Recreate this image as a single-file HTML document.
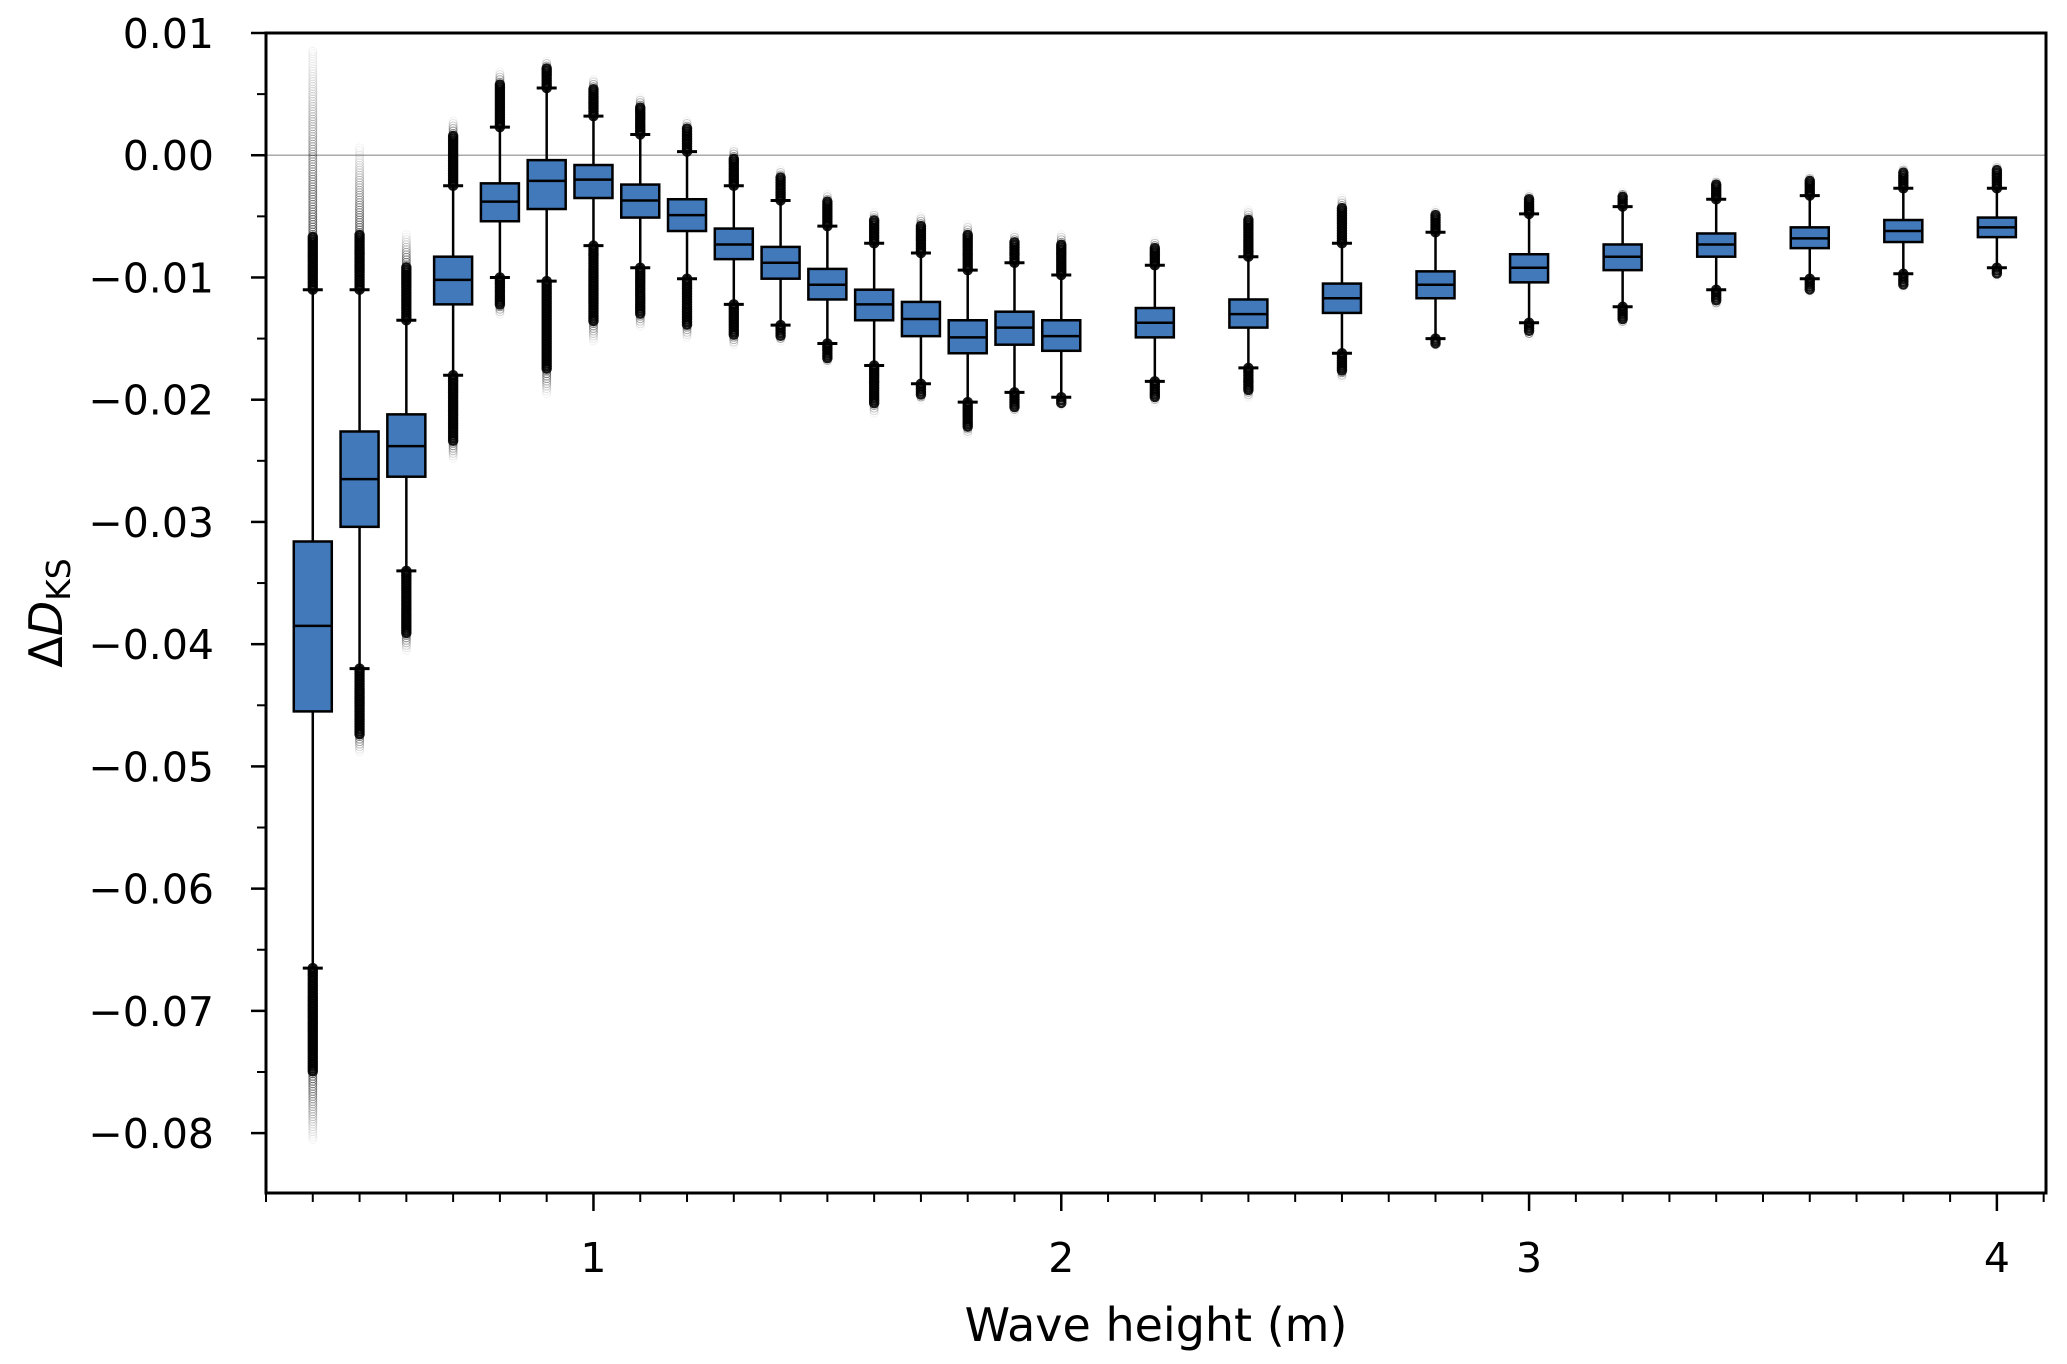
<!DOCTYPE html>
<html><head><meta charset="utf-8"><style>
html,body{margin:0;padding:0;background:#fff}
svg{display:block}
text{font-family:"DejaVu Sans","Liberation Sans",sans-serif;fill:#000}
</style></head><body>
<svg id="chart" width="2067" height="1364" viewBox="0 0 2067 1364" xmlns="http://www.w3.org/2000/svg">
<g id="plot"></g>
</svg>
<script>
const categories=[0.4,0.5,0.6,0.7,0.8,0.9,1.0,1.1,1.2,1.3,1.4,1.5,1.6,1.7,1.8,1.9,2.0,2.2,2.4,2.6,2.8,3.0,3.2,3.4,3.6,3.8,4.0];
const q3=[-0.0316,-0.0226,-0.0212,-0.0083,-0.0023,-0.0004,-0.0008,-0.0024,-0.0036,-0.0060,-0.0075,-0.0093,-0.0110,-0.0120,-0.0135,-0.0128,-0.0135,-0.0125,-0.0118,-0.0105,-0.0095,-0.0081,-0.0073,-0.0064,-0.0059,-0.0053,-0.0051];
const q1=[-0.0455,-0.0304,-0.0263,-0.0122,-0.0054,-0.0044,-0.0035,-0.0051,-0.0062,-0.0085,-0.0101,-0.0118,-0.0135,-0.0148,-0.0162,-0.0155,-0.0160,-0.0149,-0.0141,-0.0129,-0.0117,-0.0104,-0.0094,-0.0083,-0.0076,-0.0071,-0.0067];
const medians=[-0.0385,-0.0265,-0.0238,-0.0102,-0.0038,-0.0021,-0.0020,-0.0037,-0.0049,-0.0073,-0.0088,-0.0106,-0.0122,-0.0134,-0.0149,-0.0141,-0.0148,-0.0137,-0.0130,-0.0117,-0.0106,-0.0092,-0.0083,-0.0073,-0.0068,-0.0062,-0.0059];
const whiskHi=[-0.0110,-0.0110,-0.0135,-0.0025,0.0023,0.0055,0.0032,0.0017,0.0003,-0.0025,-0.0037,-0.0058,-0.0072,-0.0080,-0.0094,-0.0088,-0.0098,-0.0090,-0.0083,-0.0072,-0.0063,-0.0048,-0.0042,-0.0036,-0.0033,-0.0027,-0.0027];
const whiskLo=[-0.0665,-0.0420,-0.0340,-0.0180,-0.0100,-0.0103,-0.0074,-0.0092,-0.0101,-0.0122,-0.0139,-0.0154,-0.0172,-0.0187,-0.0202,-0.0194,-0.0198,-0.0185,-0.0174,-0.0162,-0.0150,-0.0137,-0.0124,-0.0110,-0.0101,-0.0097,-0.0092];
const flierHi=[0.0085,0.0006,-0.0065,0.0028,0.0068,0.0077,0.0062,0.0047,0.0028,0.0005,-0.0012,-0.0032,-0.0047,-0.0050,-0.0057,-0.0065,-0.0065,-0.0070,-0.0045,-0.0035,-0.0045,-0.0032,-0.0030,-0.0020,-0.0017,-0.0010,-0.0008];
const flierLo=[-0.0805,-0.0488,-0.0405,-0.0248,-0.0130,-0.0195,-0.0152,-0.0140,-0.0149,-0.0155,-0.0152,-0.0170,-0.0211,-0.0200,-0.0228,-0.0210,-0.0205,-0.0202,-0.0198,-0.0182,-0.0156,-0.0148,-0.0138,-0.0123,-0.0112,-0.0108,-0.0099];
const yTickLabels=["0.01","0.00","\u22120.01","\u22120.02","\u22120.03","\u22120.04","\u22120.05","\u22120.06","\u22120.07","\u22120.08"];
const yTickValues=[0.01,0,-0.01,-0.02,-0.03,-0.04,-0.05,-0.06,-0.07,-0.08];
const xTickValues=[1,2,3,4];
const xTickLabels=["1","2","3","4"];

const L=266,R=2046,T=33,B=1193;
const X0=0.30,X1=4.105,Y0=-0.0849,Y1=0.01;
const sx=v=>L+(v-X0)/(X1-X0)*(R-L);
const sy=v=>B-(v-Y0)/(Y1-Y0)*(B-T);
const NS="http://www.w3.org/2000/svg";
const g=document.getElementById('plot');
function mk(tag,attrs,parent){const e=document.createElementNS(NS,tag);for(const k in attrs)e.setAttribute(k,attrs[k]);(parent||g).appendChild(e);return e;}

let zl=mk('line',{x1:L,x2:R,y1:sy(0),y2:sy(0),stroke:'#aaa','stroke-width':1.5});



const bw=38,cap=20;
categories.forEach((c,i)=>{
  const cx=sx(c);
  const bg=mk('g',{});
  
  
  [[whiskHi[i],flierHi[i],55],[whiskLo[i],flierLo[i],105]].forEach(([w,f,dmax])=>{
    const y0=sy(w),y1=sy(f),len=Math.abs(y1-y0);
    const dense=Math.min(0.8*len,dmax)/len;
    const n=Math.max(2,Math.round(len/2.5));
    for(let k=0;k<=n;k++){
      const t=k/n,y=y0+(y1-y0)*t;
      const op=t<dense?0.9:0.9-(t-dense)/(1-dense)*0.85;
      const fl=mk('circle',{cx:cx,cy:y,r:4,fill:'none',stroke:'#000','stroke-opacity':Math.max(0.05,op*(t<dense?1:0.5)),'stroke-width':t<dense?2.5:1},bg);
      
      
    }
  });
  const wl=mk('line',{x1:cx,x2:cx,y1:sy(whiskHi[i]),y2:sy(whiskLo[i]),stroke:'#000','stroke-width':2.5},bg);
  
  
  [whiskHi[i],whiskLo[i]].forEach(w=>{
    const cp=mk('line',{x1:cx-cap/2,x2:cx+cap/2,y1:sy(w),y2:sy(w),stroke:'#000','stroke-width':3},bg);
    
    
  });
  const rc=mk('rect',{x:cx-bw/2,y:sy(q3[i]),width:bw,height:sy(q1[i])-sy(q3[i]),fill:'#4279bb',stroke:'#000','stroke-width':2.5},bg);
  
  
  const md=mk('line',{x1:cx-bw/2,x2:cx+bw/2,y1:sy(medians[i]),y2:sy(medians[i]),stroke:'#000','stroke-width':2.5},bg);
  
  
});

const sp=mk('rect',{x:L,y:T,width:R-L,height:B-T,fill:'none',stroke:'#000','stroke-width':3});



yTickValues.forEach((v,i)=>{
  const y=sy(v);
  const t=mk('line',{x1:L-15,x2:L,y1:y,y2:y,stroke:'#000','stroke-width':2.5});
  
  
  const tx=mk('text',{x:214,y:y+15,'text-anchor':'end','font-size':41});
  tx.textContent=yTickLabels[i];
  
  
});
for(let v=0.005;v>Y0;v-=0.01){
  const y=sy(v);
  const t=mk('line',{x1:L-9,x2:L,y1:y,y2:y,stroke:'#000','stroke-width':2});
  
  
}
for(let k=3;k<=41;k++){
  const v=k/10;if(v<X0-1e-9||v>X1)continue;
  const major=k%10===0;
  const x=sx(v);
  const t=mk('line',{x1:x,x2:x,y1:B,y2:B+(major?18:9),stroke:'#000','stroke-width':major?2.5:2});
  
  
}
xTickValues.forEach((v,i)=>{
  const tx=mk('text',{x:sx(v),y:1272,'text-anchor':'middle','font-size':41});
  tx.textContent=xTickLabels[i];
  
  
});
const xl=mk('text',{x:(L+R)/2,y:1341,'text-anchor':'middle','font-size':46});
xl.textContent='Wave height (m)';


const yl=mk('text',{x:0,y:0,'text-anchor':'middle','font-size':46,transform:'translate(62,613) rotate(-90)'});


const t1=mk('tspan',{},yl);t1.textContent='Δ';
const t2=mk('tspan',{'font-style':'italic'},yl);t2.textContent='D';
const t3=mk('tspan',{'font-size':33,dy:8},yl);t3.textContent='KS';
</script>
</body></html>
